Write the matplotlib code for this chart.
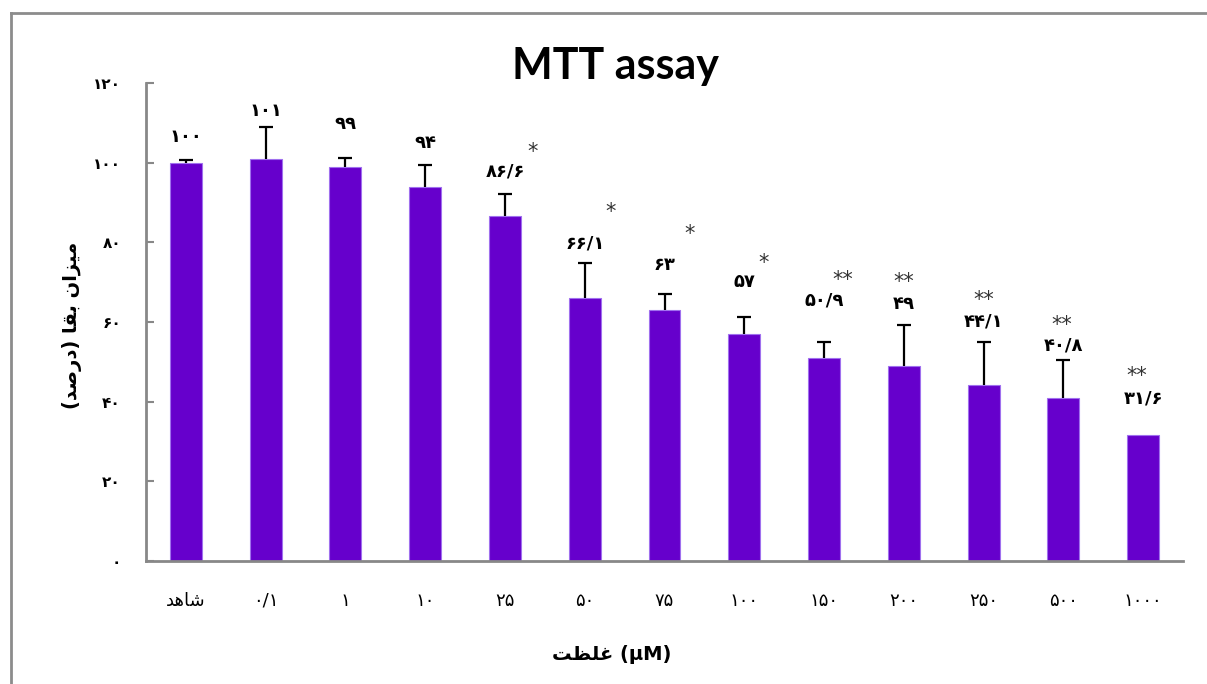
import numpy as np
import matplotlib
matplotlib.use("Agg")
import matplotlib.pyplot as plt
from matplotlib.ticker import FuncFormatter
from matplotlib.lines import Line2D

# data
concentrations = ["شاهد", "0.1", "1", "10", "25", "50", "75", "100", "150", "200", "250", "500", "1000"]
viability = [100, 101, 99, 94, 86.6, 66.1, 63, 57, 50.9, 49, 44.1, 40.8, 31.6]
errors = [0.6, 7.9, 2.1, 5.3, 5.5, 8.8, 4.0, 4.2, 4.0, 10.2, 10.9, 9.6, 0]
significance = ["", "", "", "", "*", "*", "*", "*", "**", "**", "**", "**", "**"]

# label placement (y in data units, star x offset in category units)
label_y = [106.4, 112.9, 109.7, 104.9, 97.9, 79.8, 74.3, 70.1, 65.3, 64.6, 60.2, 54.0, 40.7]
star_y = [0, 0, 0, 0, 102.8, 87.7, 82.2, 74.9, 70.6, 70.0, 65.4, 59.3, 46.5]
star_dx = [0, 0, 0, 0, 0.34, 0.33, 0.31, 0.24, 0.24, 0.0, 0.0, -0.02, -0.08]

FA_DIGITS = str.maketrans("0123456789.", "۰۱۲۳۴۵۶۷۸۹/")

def fa_num(v):
    return f"{v:g}".translate(FA_DIGITS)

# simple persian shaping (matplotlib has no arabic shaping)
FORMS = {
    'ا': ('\uFE8D', '\uFE8E', None, None),
    'ب': ('\uFE8F', '\uFE90', '\uFE91', '\uFE92'),
    'ت': ('\uFE95', '\uFE96', '\uFE97', '\uFE98'),
    'د': ('\uFEA9', '\uFEAA', None, None),
    'ر': ('\uFEAD', '\uFEAE', None, None),
    'ز': ('\uFEAF', '\uFEB0', None, None),
    'ش': ('\uFEB5', '\uFEB6', '\uFEB7', '\uFEB8'),
    'ص': ('\uFEB9', '\uFEBA', '\uFEBB', '\uFEBC'),
    'ظ': ('\uFEC5', '\uFEC6', '\uFEC7', '\uFEC8'),
    'غ': ('\uFECD', '\uFECE', '\uFECF', '\uFED0'),
    'ق': ('\uFED5', '\uFED6', '\uFED7', '\uFED8'),
    'ل': ('\uFEDD', '\uFEDE', '\uFEDF', '\uFEE0'),
    'م': ('\uFEE1', '\uFEE2', '\uFEE3', '\uFEE4'),
    'ن': ('\uFEE5', '\uFEE6', '\uFEE7', '\uFEE8'),
    'ه': ('\uFEE9', '\uFEEA', '\uFEEB', '\uFEEC'),
    'ی': ('\uFBFC', '\uFBFD', '\uFBFE', '\uFBFF'),
}

def fa_text(s):
    out = []
    for i, c in enumerate(s):
        if c not in FORMS:
            out.append(c)
            continue
        prev = s[i - 1] if i > 0 else ''
        nxt = s[i + 1] if i + 1 < len(s) else ''
        jp = prev in FORMS and FORMS[prev][2] is not None
        jn = nxt in FORMS and FORMS[c][2] is not None
        f = FORMS[c]
        if jp and jn:
            out.append(f[3])
        elif jp:
            out.append(f[1])
        elif jn:
            out.append(f[2])
        else:
            out.append(f[0])
    swap = {'(': ')', ')': '('}
    return ''.join(swap.get(c, c) for c in reversed(out))

xlabels = [fa_text(c) if not c[0].isdigit() else c.translate(FA_DIGITS) for c in concentrations]

plt.rcParams['font.family'] = ['DejaVu Sans']

fig = plt.figure(figsize=(12.07, 6.84), dpi=100)
ax = fig.add_axes([146/1207, 1-561/684, (1183-146)/1207, (561-83)/684])

x = np.arange(len(viability))
ax.bar(x, viability, width=0.4, color='#6600CC', edgecolor='#A070EE', linewidth=0.8, zorder=2)

# upper error bars only
has_err = np.array(errors) > 0
xe = x[has_err]
ye = np.array(viability)[has_err]
ee = np.array(errors)[has_err]
_, caps, _ = ax.errorbar(xe, ye, yerr=[np.zeros(len(ee)), ee], fmt='none',
                         ecolor='black', elinewidth=1.6, capsize=5, capthick=1.6, zorder=3)
caps[0].set_visible(False)

for i, v in enumerate(viability):
    ax.text(i, label_y[i], fa_num(v), ha='center', va='center', fontsize=13,
            fontweight='bold', color='black')
    if significance[i]:
        ax.text(i + star_dx[i], star_y[i], significance[i], ha='center', va='center',
                fontsize=15, color='#333333')

ax.set_xlim(-0.5, 12.5)
ax.set_ylim(0, 120)
ax.set_yticks(range(0, 121, 20))
ax.yaxis.set_major_formatter(FuncFormatter(lambda v, p: fa_num(int(v))))
ax.set_xticks(x)
ax.set_xticklabels(xlabels, fontsize=13)
ax.tick_params(axis='x', length=0, pad=22)
ax.tick_params(axis='y', direction='in', length=6, width=1.5, color='#888888', pad=18, labelsize=11)
for t in ax.get_yticklabels():
    t.set_fontweight('bold')

for s in ['top', 'right']:
    ax.spines[s].set_visible(False)
for s in ['left', 'bottom']:
    ax.spines[s].set_color('#888888')
    ax.spines[s].set_linewidth(2)

fig.text(615/1207, 1-66/684, 'MTT assay', ha='center', va='center', fontsize=31,
         fontweight='bold', family=['Lato', 'DejaVu Sans'])
fig.text(72/1207, 1-325/684, fa_text('میزان بقا (درصد)'), rotation=90, ha='center', va='center',
         fontsize=14, fontweight='bold')
fig.text(612/1207, 1-655/684, fa_text('غلظت') + ' (µM)', ha='center', va='center',
         fontsize=14, fontweight='bold')

# outer frame
fig.add_artist(Line2D([11/1207, 11/1207], [0, 1-13/684], transform=fig.transFigure, color='#8c8c8c', lw=2))
fig.add_artist(Line2D([11/1207, 1], [1-13/684, 1-13/684], transform=fig.transFigure, color='#8c8c8c', lw=2))

fig.savefig('out.png', dpi=100)
